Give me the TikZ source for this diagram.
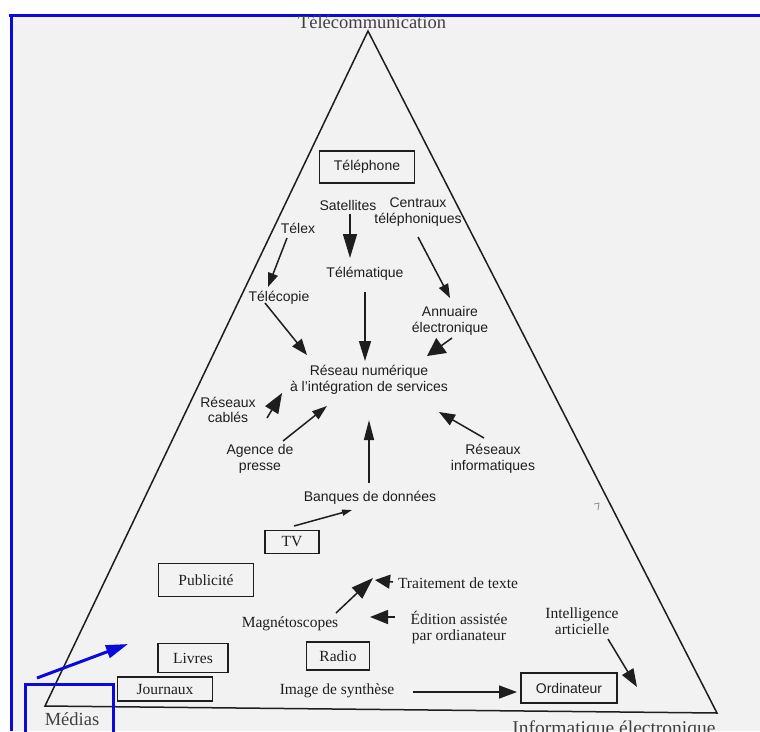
\documentclass[tikz,border=0pt]{standalone}
\usepackage{fontspec}
\setmainfont{Liberation Serif}
\setsansfont{Liberation Sans}
\usetikzlibrary{arrows.meta}
\definecolor{frameblue}{RGB}{10,10,220}
\definecolor{ink}{RGB}{30,30,30}
\begin{document}
\begin{tikzpicture}[x=1pt,y=-1pt,
  sansl/.style={font=\sffamily\fontsize{14}{15.5}\selectfont, align=center, inner sep=0pt, text=ink},
  serl/.style={font=\fontsize{15.5}{16}\selectfont, align=center, inner sep=0pt, text=ink},
  corner/.style={font=\fontsize{18.5}{20}\selectfont, inner sep=0pt, text=ink!85, anchor=base},
  boxn/.style={draw=ink, line width=1.3pt, inner sep=0pt},
  arr/.style={draw=ink, line width=1.5pt, -{Triangle[length=16pt,width=12pt]}},
  bluel/.style={draw=frameblue, line width=3pt}
]
\useasboundingbox (0,0) rectangle (760,731);
\fill[white] (0,0) rectangle (760,731);
\fill[black!5] (11,15) rectangle (760,731);
\draw[bluel] (9,15) -- (760,15);
\draw[bluel] (11,15) -- (11,731);

% triangle
\coordinate (top) at (368,31);
\coordinate (br) at (717,713);
\coordinate (bl) at (45,706);
\draw[ink, line width=1.5pt, line join=miter] (top) -- (br) -- (bl) -- cycle;

% corner labels
\node[corner] (tc) at (372,28) {Télécommunication};
\node[corner] (med) at (72,725.5) {Médias};
\node[corner, font=\fontsize{19.5}{20}\selectfont] (inf2) at (614,734) {Informatique électronique};

% boxes
\node[boxn, sansl, minimum width=95pt, minimum height=32pt] (tel) at (367,167) {Téléphone};
\node[boxn, serl, minimum width=54pt, minimum height=23pt] (tv) at (292,542) {TV};
\node[boxn, serl, minimum width=95pt, minimum height=33pt] (pub) at (206,580) {Publicité};
\node[boxn, serl, minimum width=70pt, minimum height=29pt] (liv) at (193,658) {Livres};
\node[boxn, serl, minimum width=95pt, minimum height=24pt] (jou) at (165,689) {Journaux};
\node[boxn, serl, minimum width=63pt, minimum height=28pt] (rad) at (338,656) {Radio};
\node[boxn, sansl, minimum width=96pt, minimum height=30pt] (ord) at (569,688) {Ordinateur};

% sans labels
\node[sansl] (sat) at (348,205) {Satellites};
\node[sansl] (cen) at (418,212) {Centraux\\téléphoniques};
\node[sansl] (telx) at (298,228) {Télex};
\node[sansl] (telm) at (365,274) {Télématique};
\node[sansl] (telc) at (279,298) {Télécopie};
\node[sansl] (ann) at (450,321) {Annuaire\\électronique};
\node[sansl] (res) at (369,380) {Réseau numérique\\à l'intégration de services};
\node[sansl] (cab) at (228,410) {Réseaux\\cablés};
\node[sansl] (age) at (260,459) {Agence de\\presse};
\node[sansl] (rinf) at (493,459) {Réseaux\\informatiques};
\node[sansl] (ban) at (370,498) {Banques de données};

% serif labels
\node[serl] (mag) at (290,624) {Magnétoscopes};
\node[serl] (tt) at (458,583) {Traitement de texte};
\node[serl] (ed) at (459,627) {Édition assistée\\par ordianateur};
\node[serl] (img) at (337,691) {Image de synthèse};
\node[serl] (ia) at (582,621) {Intelligence\\articielle};

% arrow end points
\coordinate (a1s) at (350,214); \coordinate (a1e) at (350,258);
\coordinate (a2s) at (287,238); \coordinate (a2e) at (268,287);
\coordinate (a3s) at (418,237); \coordinate (a3e) at (450,298);
\coordinate (a4s) at (265,303); \coordinate (a4e) at (307,355);
\coordinate (a5s) at (365,292); \coordinate (a5e) at (365,361);
\coordinate (a6s) at (452,338); \coordinate (a6e) at (427,356);
\coordinate (a7s) at (267,418); \coordinate (a7e) at (282,393);
\coordinate (a8s) at (283,441); \coordinate (a8e) at (327,406);
\coordinate (a9s) at (369,483); \coordinate (a9e) at (369,420);
\coordinate (a10s) at (484,438); \coordinate (a10e) at (439,412);
\coordinate (a11s) at (294,526); \coordinate (a11e) at (352,510);
\coordinate (a12s) at (336,613); \coordinate (a12e) at (373,578);
\coordinate (a13s) at (393,582); \coordinate (a13e) at (375,580);
\coordinate (a14s) at (395,617); \coordinate (a14e) at (370,617);
\coordinate (a15s) at (413,692); \coordinate (a15e) at (517,692);
\coordinate (a16s) at (608,639); \coordinate (a16e) at (637,687);

\draw[arr, -{Triangle[length=24pt,width=14pt]}] (a1s) -- (a1e);
\draw[arr, -{Triangle[length=14pt,width=10pt]}] (a2s) -- (a2e);
\draw[arr, -{Triangle[length=14pt,width=10pt]}] (a3s) -- (a3e);
\draw[arr] (a4s) -- (a4e);
\draw[arr, -{Triangle[length=20pt,width=12pt]}] (a5s) -- (a5e);
\draw[arr, -{Triangle[length=18pt,width=18pt]}] (a6s) -- (a6e);
\draw[arr, -{Triangle[length=20pt,width=15pt]}] (a7s) -- (a7e);
\draw[arr, -{Triangle[length=15pt,width=10pt]}] (a8s) -- (a8e);
\draw[arr, -{Triangle[length=20pt,width=10pt]}] (a9s) -- (a9e);
\draw[arr] (a10s) -- (a10e);
\draw[arr, -{Triangle[length=10pt,width=6pt]}] (a11s) -- (a11e);
\draw[arr, -{Triangle[length=22pt,width=15pt]}] (a12s) -- (a12e);
\draw[arr, -{Triangle[length=15pt,width=14pt]}] (a13s) -- (a13e);
\draw[arr, -{Triangle[length=18pt,width=14pt]}] (a14s) -- (a14e);
\draw[arr, -{Triangle[length=18pt,width=13pt]}] (a15s) -- (a15e);
\draw[arr, -{Triangle[length=18pt,width=13pt]}] (a16s) -- (a16e);

% small stray mark
\draw[black!45, line width=0.8pt] (594,504) -- (599,503) -- (598,510);

% blue annotations
\draw[bluel] (25,735) -- (25,684) -- (113,684) -- (113,735);
\coordinate (b1s) at (37,678); \coordinate (b1e) at (128,644);
\draw[frameblue, line width=3pt, -{Triangle[length=22pt,width=13pt]}] (b1s) -- (b1e);
\end{tikzpicture}
\end{document}
